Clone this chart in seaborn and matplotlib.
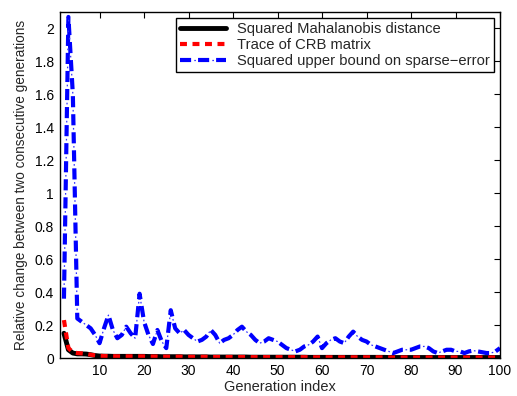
import numpy as np
import pandas as pd
import matplotlib
matplotlib.use("Agg")
import matplotlib.pyplot as plt
from matplotlib.ticker import FuncFormatter
import seaborn as sns

generations = list(range(2, 101))

mahalanobis = [0.15, 0.05, 0.03, 0.025, 0.025, 0.024, 0.02, 0.015, 0.012, 0.011,
               0.011, 0.010, 0.010, 0.010, 0.010, 0.010, 0.010, 0.010, 0.010, 0.009,
               0.009, 0.009, 0.008, 0.008, 0.008, 0.008, 0.008, 0.007, 0.007, 0.007,
               0.007, 0.007, 0.007, 0.006, 0.006, 0.006, 0.006, 0.006, 0.006, 0.006,
               0.006, 0.006, 0.005, 0.005, 0.005, 0.005, 0.005, 0.005, 0.005, 0.005,
               0.005, 0.005, 0.005, 0.005, 0.005, 0.004, 0.004, 0.004, 0.004, 0.004,
               0.004, 0.004, 0.004, 0.004, 0.004, 0.004, 0.004, 0.004, 0.004, 0.004,
               0.004, 0.004, 0.004, 0.003, 0.003, 0.003, 0.003, 0.003, 0.003, 0.003,
               0.003, 0.003, 0.003, 0.003, 0.003, 0.003, 0.003, 0.003, 0.003, 0.003,
               0.003, 0.003, 0.003, 0.003, 0.003, 0.003, 0.003, 0.003, 0.003]

crb_trace = [0.23, 0.06, 0.035, 0.03, 0.028, 0.025, 0.02, 0.016, 0.013, 0.012,
             0.011, 0.011, 0.010, 0.010, 0.010, 0.010, 0.010, 0.010, 0.010, 0.009,
             0.009, 0.009, 0.008, 0.008, 0.008, 0.008, 0.008, 0.007, 0.007, 0.007,
             0.007, 0.007, 0.007, 0.006, 0.006, 0.006, 0.006, 0.006, 0.006, 0.006,
             0.006, 0.006, 0.005, 0.005, 0.005, 0.005, 0.005, 0.005, 0.005, 0.005,
             0.005, 0.005, 0.005, 0.005, 0.005, 0.004, 0.004, 0.004, 0.004, 0.004,
             0.004, 0.004, 0.004, 0.004, 0.004, 0.004, 0.004, 0.004, 0.004, 0.004,
             0.004, 0.004, 0.004, 0.003, 0.003, 0.003, 0.003, 0.003, 0.003, 0.003,
             0.003, 0.003, 0.003, 0.003, 0.003, 0.003, 0.003, 0.003, 0.003, 0.003,
             0.003, 0.003, 0.003, 0.003, 0.003, 0.003, 0.003, 0.003, 0.003]

sparse_bound = [0.36, 2.07, 1.60, 0.24, 0.22, 0.20, 0.18, 0.14, 0.09, 0.18,
                0.26, 0.17, 0.12, 0.14, 0.19, 0.15, 0.12, 0.39, 0.22, 0.14,
                0.085, 0.17, 0.10, 0.06, 0.29, 0.18, 0.15, 0.17, 0.14, 0.12,
                0.10, 0.11, 0.13, 0.17, 0.14, 0.09, 0.11, 0.12, 0.14, 0.17,
                0.19, 0.16, 0.14, 0.11, 0.09, 0.10, 0.12, 0.11, 0.10, 0.08,
                0.06, 0.05, 0.04, 0.05, 0.07, 0.08, 0.10, 0.13, 0.06, 0.09,
                0.11, 0.12, 0.10, 0.09, 0.13, 0.16, 0.13, 0.11, 0.10, 0.08,
                0.07, 0.06, 0.05, 0.04, 0.03, 0.04, 0.05, 0.05, 0.05, 0.06,
                0.07, 0.07, 0.06, 0.04, 0.03, 0.04, 0.05, 0.05, 0.04, 0.04,
                0.03, 0.04, 0.045, 0.04, 0.035, 0.03, 0.03, 0.04, 0.06]

labels = ["Squared Mahalanobis distance", "Trace of CRB matrix",
          "Squared upper bound on sparse\u2212error"]
xticks = [10, 20, 30, 40, 50, 60, 70, 80, 90, 100]
yticks = [0, 0.2, 0.4, 0.6, 0.8, 1.0, 1.2, 1.4, 1.6, 1.8, 2.0]

sns.set_style("white")
plt.rcParams['font.family'] = ['Liberation Sans', 'DejaVu Sans']
plt.rcParams['xtick.direction'] = 'in'
plt.rcParams['ytick.direction'] = 'in'
plt.rcParams['lines.scale_dashes'] = False

fig = plt.figure(figsize=(5.17, 3.96), dpi=100)
ax = fig.add_axes([59.5 / 517, 1 - 358 / 396, (500 - 59.5) / 517, (358 - 12) / 396])

df_m = pd.DataFrame({"x": generations, "y": mahalanobis})
df_c = pd.DataFrame({"x": generations, "y": crb_trace})
df_s = pd.DataFrame({"x": generations, "y": sparse_bound})

sns.lineplot(data=df_m, x="x", y="y", ax=ax, color="black", lw=3.5, label=labels[0])
sns.lineplot(data=df_c, x="x", y="y", ax=ax, color="#ff0000", lw=3, label=labels[1])
sns.lineplot(data=df_s, x="x", y="y", ax=ax, color="#0000ff", lw=3, label=labels[2])
sns.lineplot(data=df_s, x="x", y="y", ax=ax, color="#3333ff", lw=0.9, legend=False)
lines = ax.get_lines()
lines[1].set_linestyle((0, (5.0, 4.0)))
lines[2].set_linestyle((0, (8.0, 5.0)))
lines[3].set_linestyle((3.1, (1.2, 11.8)))
for ln in lines:
    ln.set_dash_capstyle('butt')

ax.set_xlim(1, 100)
ax.set_ylim(0, 2.1)
ax.set_xticks(xticks)
ax.set_yticks(yticks)
ax.yaxis.set_major_formatter(FuncFormatter(lambda v, p: "%g" % round(v, 1)))
ax.tick_params(axis='both', which='both', direction='in', length=4, width=0.8,
               top=True, right=True, labelsize=10, pad=4, colors='black')
for s in ax.spines.values():
    s.set_visible(True)
    s.set_color('black')
    s.set_linewidth(1.0)

ax.set_xlabel("Generation index", fontsize=10.5, labelpad=2)
ax.set_ylabel("Relative change between two consecutive generations", fontsize=9.8, labelpad=5)

handles = [lines[0], lines[1], (lines[2], lines[3])]
leg = ax.legend(handles, labels, loc="upper right", fontsize=10.6, frameon=True, fancybox=False,
                edgecolor='black', framealpha=1, handlelength=3.1, handletextpad=0.75,
                labelspacing=0.12, borderaxespad=0.4, borderpad=0.3)
leg.get_frame().set_linewidth(1.0)

fig.savefig("out.png", dpi=100)
